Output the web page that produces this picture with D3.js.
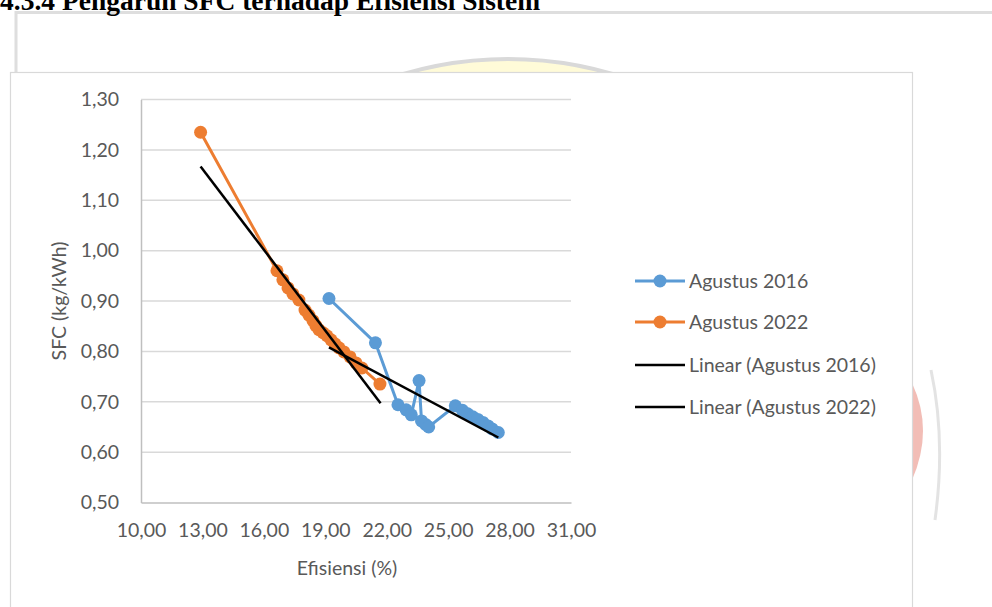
<!DOCTYPE html>
<html><head><meta charset="utf-8">
<script src="https://cdn.jsdelivr.net/npm/d3@7"></script>
<style>
html,body{margin:0;padding:0;background:#fff;overflow:hidden;}
svg{display:block;}
</style></head>
<body>
<svg id="c" width="992" height="607"></svg>
<script>
// ---- data ----
const title = "4.3.4 Pengaruh SFC terhadap Efisiensi Sistem";
const eff2016 = [19.18, 21.45, 22.55, 22.95, 23.2, 23.58, 23.7, 23.9, 24.05, 25.35, 25.7, 25.95, 26.2, 26.45, 26.7, 26.95, 27.15, 27.45];
const sfc2016 = [0.905, 0.817, 0.694, 0.684, 0.674, 0.742, 0.662, 0.655, 0.650, 0.692, 0.683, 0.676, 0.670, 0.665, 0.659, 0.652, 0.646, 0.639];
const eff2022 = [12.91, 16.64, 16.93, 17.18, 17.42, 17.71, 18.01, 18.20, 18.40, 18.54, 18.69, 18.89, 19.08, 19.28, 19.47, 19.67, 19.91, 20.21, 20.50, 20.79, 21.67];
const sfc2022 = [1.235, 0.960, 0.942, 0.926, 0.914, 0.902, 0.882, 0.872, 0.861, 0.851, 0.843, 0.837, 0.831, 0.823, 0.815, 0.807, 0.799, 0.789, 0.777, 0.767, 0.735];
const trend2016X = [19.18, 27.45], trend2016Y = [0.808, 0.629];
const trend2022X = [12.91, 21.70], trend2022Y = [1.167, 0.697];
const xTicks = [10, 13, 16, 19, 22, 25, 28, 31];
const yTicks = [0.5, 0.6, 0.7, 0.8, 0.9, 1.0, 1.1, 1.2, 1.3];
const legendLabels = ["Agustus 2016", "Agustus 2022", "Linear (Agustus 2016)", "Linear (Agustus 2022)"];
const colors = ["#5B9BD5", "#ED7D31", "#000000", "#000000"];

// ---- drawing ----
const svg = d3.select("#c");
const font = "Lato, 'Open Sans', sans-serif";
const txt = "#595959";
const loc = d3.formatLocale({decimal: ",", thousands: ".", grouping: [3], currency: ["", ""]});
const fmt = loc.format(".2f");

// page frame and watermark (behind chart)
svg.append("rect").attr("x", 16).attr("y", 12.5).attr("width", 1000).attr("height", 700)
  .attr("fill", "none").attr("stroke", "#dedede").attr("stroke-width", 3);
svg.append("circle").attr("cx", 508).attr("cy", 431).attr("r", 372)
  .attr("fill", "#fffbd8").attr("stroke", "#d9d9d9").attr("stroke-width", 4);
// right watermark fragment
svg.append("path").attr("d", "M912,383 Q934,430 912,480 Z").attr("fill", "#f2bdb6");
svg.append("path").attr("d", "M931,370 Q946,440 935,520").attr("fill", "none").attr("stroke", "#e3e3e3").attr("stroke-width", 3);

// title
svg.append("text").attr("x", 0).attr("y", 10).text(title)
  .attr("font-family", "'Liberation Serif', 'Times New Roman', serif").attr("font-weight", "bold")
  .attr("font-size", 27.5).attr("fill", "#000");

// chart area
svg.append("rect").attr("x", 10.5).attr("y", 72.5).attr("width", 902).attr("height", 600)
  .attr("fill", "#fff").attr("stroke", "#d9d9d9").attr("stroke-width", 1.2);

const x = d3.scaleLinear().domain([10, 31]).range([141, 571]);
const y = d3.scaleLinear().domain([0.5, 1.3]).range([502.5, 99.5]);

// gridlines
svg.append("g").selectAll("line").data(yTicks.slice(1)).join("line")
  .attr("x1", x(10)).attr("x2", x(31)).attr("y1", d => y(d)).attr("y2", d => y(d))
  .attr("stroke", "#d9d9d9").attr("stroke-width", 1.5);

// axes
const gy = svg.append("g").attr("transform", `translate(${x(10)},0)`)
  .call(d3.axisLeft(y).tickValues(yTicks).tickFormat(fmt).tickSize(0).tickPadding(22));
gy.select(".domain").attr("stroke", "#bfbfbf").attr("stroke-width", 1.5);
gy.selectAll("text").attr("font-family", font).attr("font-size", 19.5).attr("fill", txt);

const gx = svg.append("g").attr("transform", `translate(0,${y(0.5)})`)
  .call(d3.axisBottom(x).tickValues(xTicks).tickFormat(fmt).tickSize(0).tickPadding(21));
gx.select(".domain").attr("stroke", "#bfbfbf").attr("stroke-width", 1.5);
gx.selectAll("text").attr("font-family", font).attr("font-size", 19.5).attr("fill", txt);

// axis titles
svg.append("text").attr("transform", "translate(66,301) rotate(-90)").attr("text-anchor", "middle")
  .attr("font-family", font).attr("font-size", 19.5).attr("fill", txt).text("SFC (kg/kWh)");
svg.append("text").attr("x", 347).attr("y", 575).attr("text-anchor", "middle")
  .attr("font-family", font).attr("font-size", 19.5).attr("fill", txt).text("Efisiensi (%)");

// series
const line = d3.line().x(d => x(d[0])).y(d => y(d[1]));
function series(xs, ys, color) {
  const pts = xs.map((v, i) => [v, ys[i]]);
  svg.append("path").datum(pts).attr("d", line).attr("fill", "none")
    .attr("stroke", color).attr("stroke-width", 3).attr("stroke-linejoin", "round");
  svg.append("g").selectAll("circle").data(pts).join("circle")
    .attr("cx", d => x(d[0])).attr("cy", d => y(d[1])).attr("r", 6.5).attr("fill", color);
}
series(eff2016, sfc2016, colors[0]);
series(eff2022, sfc2022, colors[1]);

function trend(xs, ys) {
  const pts = xs.map((v, i) => [v, ys[i]]);
  svg.append("path").datum(pts).attr("d", line).attr("fill", "none")
    .attr("stroke", "#000").attr("stroke-width", 2.5);
}
trend(trend2016X, trend2016Y);
trend(trend2022X, trend2022Y);

// legend
const ly = [281, 322, 365, 407];
const lg = svg.append("g");
legendLabels.forEach((lab, i) => {
  lg.append("line").attr("x1", 635).attr("x2", 685).attr("y1", ly[i]).attr("y2", ly[i])
    .attr("stroke", colors[i]).attr("stroke-width", i < 2 ? 3 : 2.5);
  if (i < 2) lg.append("circle").attr("cx", 660).attr("cy", ly[i]).attr("r", 6.5).attr("fill", colors[i]);
  lg.append("text").attr("x", 689).attr("y", ly[i]).attr("dy", "0.36em")
    .attr("font-family", font).attr("font-size", 19.5).attr("fill", txt).text(lab);
});
</script>
</body></html>
